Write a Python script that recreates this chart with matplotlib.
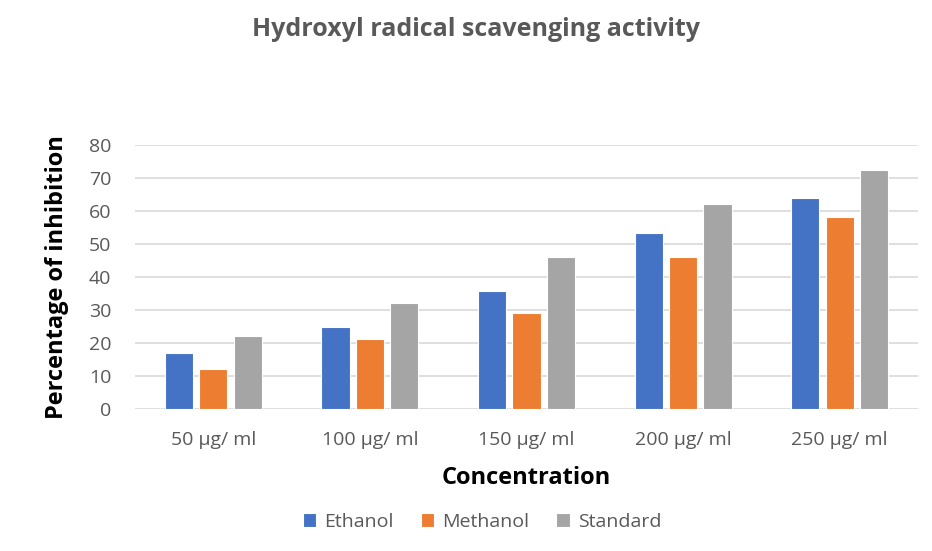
import matplotlib
matplotlib.use("Agg")
import matplotlib.pyplot as plt
import numpy as np

categories = ["50 µg/ ml", "100 µg/ ml", "150 µg/ ml", "200 µg/ ml", "250 µg/ ml"]
ethanol = [17.0, 24.7, 35.8, 53.2, 63.8]
methanol = [12.0, 21.1, 29.1, 46.2, 58.2]
standard = [22.1, 32.2, 46.2, 62.1, 72.3]
series_names = ["Ethanol", "Methanol", "Standard"]
colors = ["#4472C4", "#ED7D31", "#A5A5A5"]
yticks = [0, 10, 20, 30, 40, 50, 60, 70, 80]

plt.rcParams['font.family'] = ['Open Sans', 'DejaVu Sans']
fig = plt.figure(figsize=(9.32, 5.51), dpi=100)
ax = fig.add_axes([135/932, 1-409/551, (918-135)/932, (409-145)/551])

x = np.arange(len(categories))
w = 0.18
step = 0.22
for i, (vals, name, c) in enumerate(zip([ethanol, methanol, standard], series_names, colors)):
    ax.bar(x + (i-1)*step, vals, width=w, color=c, label=name, zorder=3,
           edgecolor='white', linewidth=0.8)

ax.set_xlim(-0.5, len(categories)-0.5)
ax.set_ylim(0, 80)
ax.set_yticks(yticks)
ax.set_xticks(x)
ax.set_xticklabels(categories)
ax.grid(axis='y', color='#D9D9D9', linewidth=1.2, zorder=0)
for s in ax.spines.values():
    s.set_visible(False)
ax.tick_params(axis='both', length=0, labelsize=14, colors='#595959')
ax.tick_params(axis='x', pad=16)
ax.tick_params(axis='y', pad=17)

ax.set_xlabel("Concentration", fontsize=17, fontweight='bold', color='black', labelpad=12)
ax.set_ylabel("Percentage of inhibition", fontsize=17, fontweight='bold', color='black', labelpad=14)
fig.text(0.511, 1-29/551, "Hydroxyl radical scavenging activity", ha='center', va='center',
         fontsize=18, fontweight='bold', color='#595959')

leg = fig.legend(loc='center', bbox_to_anchor=(482/932, 1-522/551), ncol=3, frameon=False,
                 fontsize=14, handlelength=0.7, handleheight=0.7, columnspacing=1.4, handletextpad=0.4)
for t in leg.get_texts():
    t.set_color('#595959')

fig.savefig("out.png", dpi=100)
